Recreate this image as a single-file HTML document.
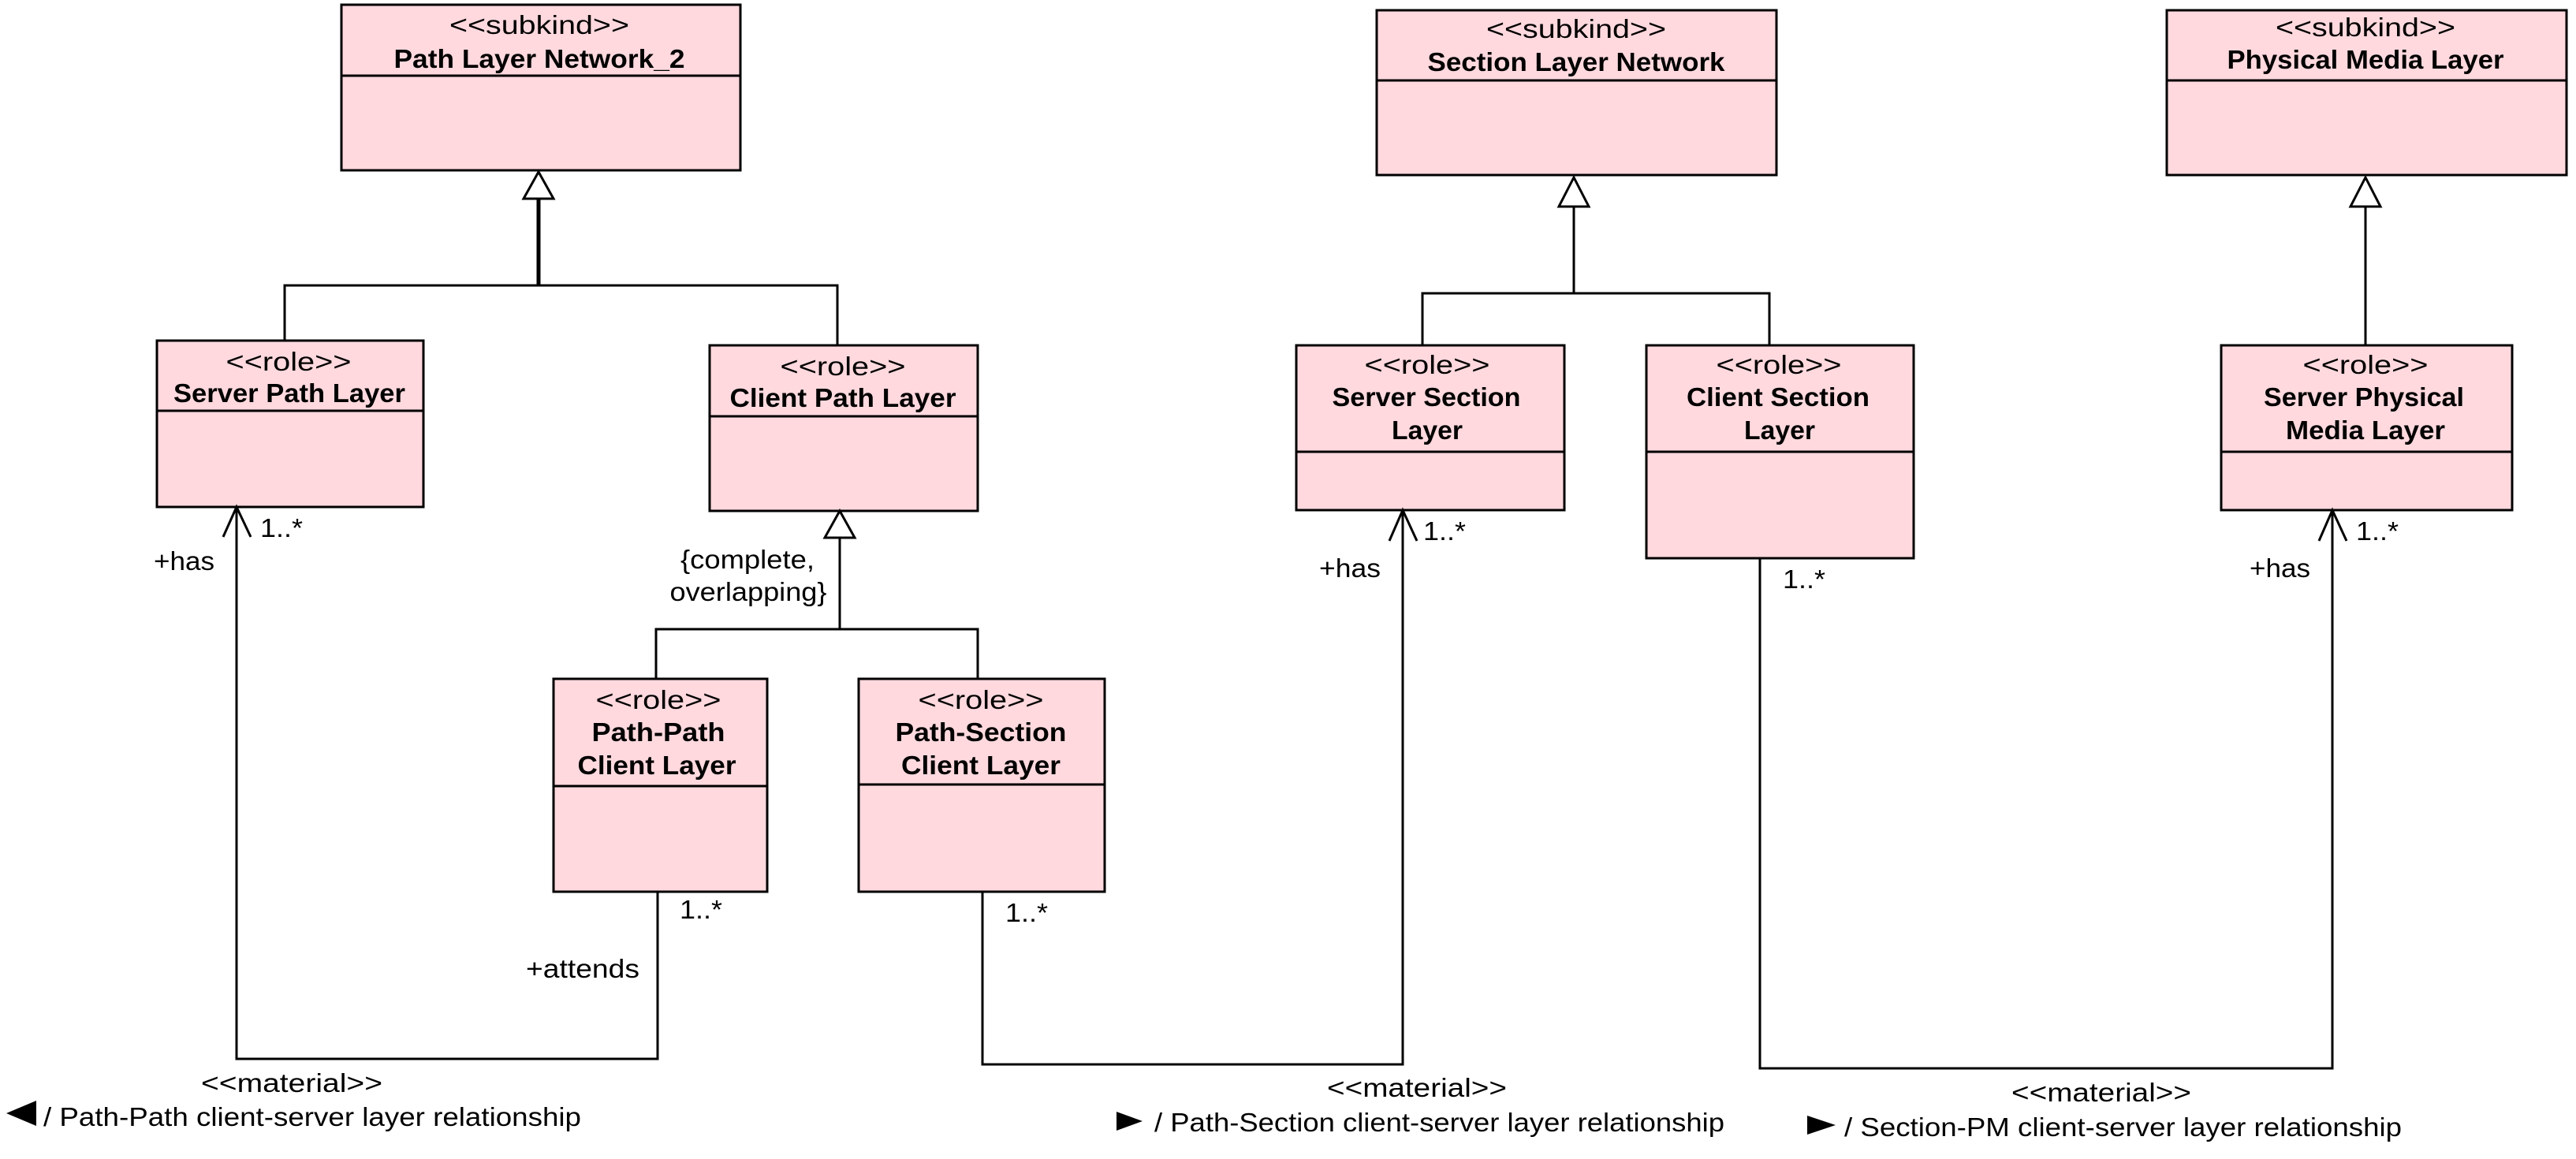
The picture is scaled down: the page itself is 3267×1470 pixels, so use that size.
<!DOCTYPE html>
<html><head><meta charset="utf-8"><style>
html,body{margin:0;padding:0;background:#fff;}
svg{display:block;}
text{font-family:"Liberation Sans",sans-serif;font-size:33px;fill:#000;}
.b{font-weight:bold;}
</style></head><body>
<svg width="3267" height="1470" viewBox="0 0 3267 1470" xmlns="http://www.w3.org/2000/svg">
<g fill="#ffd9de" stroke="#000" stroke-width="3">
<rect x="433" y="6" width="506" height="210"/>
<rect x="199" y="432" width="338" height="211"/>
<rect x="900" y="438" width="340" height="210"/>
<rect x="1746" y="13" width="507" height="209"/>
<rect x="1644" y="438" width="340" height="209"/>
<rect x="2088" y="438" width="339" height="270"/>
<rect x="2748" y="13" width="507" height="209"/>
<rect x="2817" y="438" width="369" height="209"/>
<rect x="702" y="861" width="271" height="270"/>
<rect x="1089" y="861" width="312" height="270"/>
</g>
<g stroke="#000" stroke-width="3" fill="none">
<line x1="433" y1="96" x2="939" y2="96"/>
<line x1="199" y1="521" x2="537" y2="521"/>
<line x1="900" y1="528" x2="1240" y2="528"/>
<line x1="1746" y1="102" x2="2253" y2="102"/>
<line x1="1644" y1="573" x2="1984" y2="573"/>
<line x1="2088" y1="573" x2="2427" y2="573"/>
<line x1="2748" y1="102" x2="3255" y2="102"/>
<line x1="2817" y1="573" x2="3186" y2="573"/>
<line x1="702" y1="997" x2="973" y2="997"/>
<line x1="1089" y1="995" x2="1401" y2="995"/>
<line x1="683" y1="252" x2="683" y2="362" stroke-width="5"/>
<polyline points="361,432 361,362 1062,362 1062,438"/>
<polygon points="683,218 664,252 702,252" fill="#fff"/>
<line x1="1065" y1="682" x2="1065" y2="798"/>
<polyline points="832,861 832,798 1240,798 1240,861"/>
<polygon points="1065,648 1046,682 1084,682" fill="#fff"/>
<line x1="1996" y1="262" x2="1996" y2="372"/>
<polyline points="1804,438 1804,372 2244,372 2244,438"/>
<polygon points="1996,225 1977,262 2015,262" fill="#fff"/>
<line x1="3000" y1="262" x2="3000" y2="438"/>
<polygon points="3000,225 2981,262 3019,262" fill="#fff"/>
<polyline points="834,1132 834,1343 300,1343 300,643"/>
<polyline points="283,681 300,643 318,681"/>
<polyline points="1246,1131 1246,1350 1779,1350 1779,647"/>
<polyline points="1762,686 1779,647 1797,686"/>
<polyline points="2232,708 2232,1355 2958,1355 2958,647"/>
<polyline points="2941,686 2958,647 2976,686"/>
</g>
<g fill="#000">
<polygon points="8,1412 46,1396 46,1428"/>
<polygon points="1416,1410 1449,1422 1416,1434"/>
<polygon points="2292,1415 2328,1427 2292,1439"/>
</g>
<g text-anchor="middle">
<text x="684" y="43" textLength="228" lengthAdjust="spacingAndGlyphs">&lt;&lt;subkind&gt;&gt;</text>
<text x="684" y="86" class="b" textLength="369" lengthAdjust="spacingAndGlyphs">Path Layer Network_2</text>
<text x="366" y="470" textLength="159" lengthAdjust="spacingAndGlyphs">&lt;&lt;role&gt;&gt;</text>
<text x="367" y="510" class="b" textLength="294" lengthAdjust="spacingAndGlyphs">Server Path Layer</text>
<text x="1069" y="476" textLength="159" lengthAdjust="spacingAndGlyphs">&lt;&lt;role&gt;&gt;</text>
<text x="1069" y="516" class="b" textLength="287" lengthAdjust="spacingAndGlyphs">Client Path Layer</text>
<text x="1999" y="48" textLength="228" lengthAdjust="spacingAndGlyphs">&lt;&lt;subkind&gt;&gt;</text>
<text x="1999" y="90" class="b" textLength="377" lengthAdjust="spacingAndGlyphs">Section Layer Network</text>
<text x="1810" y="474" textLength="159" lengthAdjust="spacingAndGlyphs">&lt;&lt;role&gt;&gt;</text>
<text x="1809" y="515" class="b" textLength="239" lengthAdjust="spacingAndGlyphs">Server Section</text>
<text x="1810" y="557" class="b" textLength="90" lengthAdjust="spacingAndGlyphs">Layer</text>
<text x="2256" y="474" textLength="159" lengthAdjust="spacingAndGlyphs">&lt;&lt;role&gt;&gt;</text>
<text x="2255" y="515" class="b" textLength="232" lengthAdjust="spacingAndGlyphs">Client Section</text>
<text x="2257" y="557" class="b" textLength="90" lengthAdjust="spacingAndGlyphs">Layer</text>
<text x="3000" y="46" textLength="228" lengthAdjust="spacingAndGlyphs">&lt;&lt;subkind&gt;&gt;</text>
<text x="3000" y="87" class="b" textLength="351" lengthAdjust="spacingAndGlyphs">Physical Media Layer</text>
<text x="3000" y="474" textLength="159" lengthAdjust="spacingAndGlyphs">&lt;&lt;role&gt;&gt;</text>
<text x="2998" y="515" class="b" textLength="254" lengthAdjust="spacingAndGlyphs">Server Physical</text>
<text x="3000" y="557" class="b" textLength="202" lengthAdjust="spacingAndGlyphs">Media Layer</text>
<text x="835" y="899" textLength="159" lengthAdjust="spacingAndGlyphs">&lt;&lt;role&gt;&gt;</text>
<text x="835" y="940" class="b" textLength="169" lengthAdjust="spacingAndGlyphs">Path-Path</text>
<text x="833" y="982" class="b" textLength="201" lengthAdjust="spacingAndGlyphs">Client Layer</text>
<text x="1244" y="899" textLength="159" lengthAdjust="spacingAndGlyphs">&lt;&lt;role&gt;&gt;</text>
<text x="1244" y="940" class="b" textLength="217" lengthAdjust="spacingAndGlyphs">Path-Section</text>
<text x="1244" y="982" class="b" textLength="202" lengthAdjust="spacingAndGlyphs">Client Layer</text>
<text x="948" y="721" textLength="170" lengthAdjust="spacingAndGlyphs">{complete,</text>
<text x="949" y="762" textLength="199" lengthAdjust="spacingAndGlyphs">overlapping}</text>
<text x="370" y="1385" textLength="230" lengthAdjust="spacingAndGlyphs">&lt;&lt;material&gt;&gt;</text>
<text x="1797" y="1391" textLength="228" lengthAdjust="spacingAndGlyphs">&lt;&lt;material&gt;&gt;</text>
<text x="2665" y="1397" textLength="228" lengthAdjust="spacingAndGlyphs">&lt;&lt;material&gt;&gt;</text>
</g>
<g>
<text x="330" y="681" textLength="54" lengthAdjust="spacingAndGlyphs">1..*</text>
<text x="195" y="723" textLength="77" lengthAdjust="spacingAndGlyphs">+has</text>
<text x="862" y="1165" textLength="54" lengthAdjust="spacingAndGlyphs">1..*</text>
<text x="667" y="1240" textLength="144" lengthAdjust="spacingAndGlyphs">+attends</text>
<text x="1275" y="1169" textLength="54" lengthAdjust="spacingAndGlyphs">1..*</text>
<text x="1805" y="685" textLength="54" lengthAdjust="spacingAndGlyphs">1..*</text>
<text x="1673" y="732" textLength="78" lengthAdjust="spacingAndGlyphs">+has</text>
<text x="2261" y="746" textLength="54" lengthAdjust="spacingAndGlyphs">1..*</text>
<text x="2988" y="685" textLength="54" lengthAdjust="spacingAndGlyphs">1..*</text>
<text x="2853" y="732" textLength="77" lengthAdjust="spacingAndGlyphs">+has</text>
<text x="55" y="1428" textLength="682" lengthAdjust="spacingAndGlyphs">/ Path-Path client-server layer relationship</text>
<text x="1464" y="1435" textLength="723" lengthAdjust="spacingAndGlyphs">/ Path-Section client-server layer relationship</text>
<text x="2339" y="1441" textLength="707" lengthAdjust="spacingAndGlyphs">/ Section-PM client-server layer relationship</text>
</g>
</svg>
</body></html>
